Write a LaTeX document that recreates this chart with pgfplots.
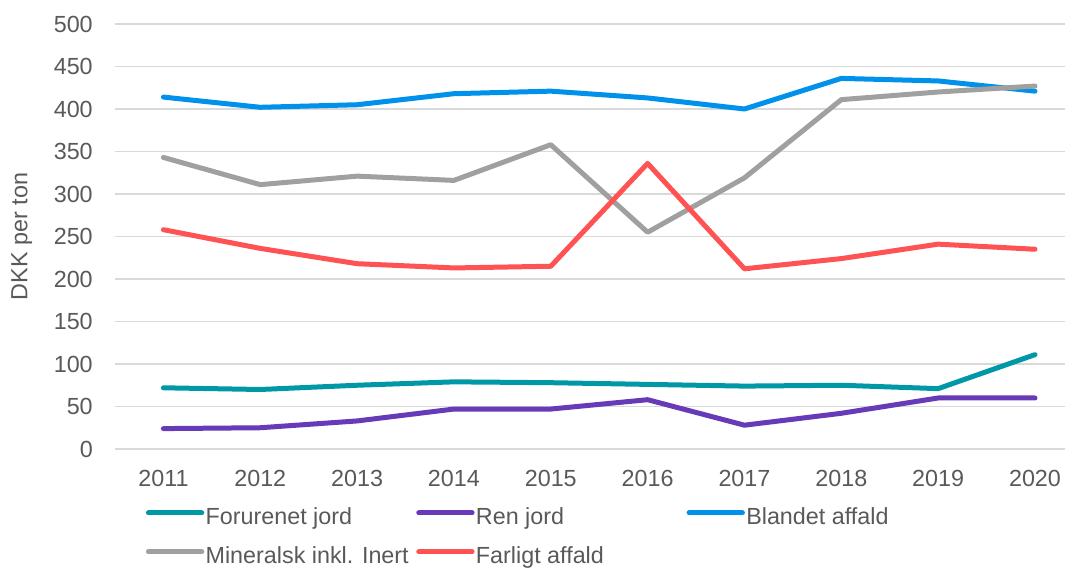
\documentclass[border=0pt]{standalone}
\usepackage{fontspec}
\setmainfont{Liberation Sans}
\usepackage{pgfplots}
\pgfplotsset{compat=1.18}
\definecolor{txt}{HTML}{595959}
\definecolor{gridc}{HTML}{D9D9D9}
\definecolor{cteal}{RGB}{0,151,167}
\definecolor{cpurple}{RGB}{103,58,183}
\definecolor{cblue}{RGB}{0,145,234}
\definecolor{cgray}{RGB}{160,160,160}
\definecolor{cred}{RGB}{255,82,82}
\newcommand{\lfont}{\fontsize{17.5}{21}\selectfont}
\begin{document}
\begin{tikzpicture}
\begin{axis}[
  name=ax,
  scale only axis,
  width=712.5pt, height=318.75pt,
  xmin=-0.5, xmax=9.31,
  ymin=0, ymax=500,
  ytick={0,50,...,500},
  xtick={0,...,9},
  xticklabels={2011,2012,2013,2014,2015,2016,2017,2018,2019,2020},
  axis line style={draw=none},
  tick style={draw=none},
  ymajorgrids,
  grid style={color=gridc, line width=1.1pt},
  /pgf/number format/assume math mode=true,
  ticklabel style={font=\lfont, text=txt},
  yticklabel style={inner sep=0pt, anchor=east, xshift=-16.5pt},
  xticklabel style={inner sep=0pt, anchor=north, yshift=-15.75pt},
  ylabel={DKK per ton},
  ylabel style={font=\lfont, text=txt, at={(axis description cs:-0.098,0.5)}, anchor=center},
  every axis plot/.append style={line width=3.75pt, line join=round, line cap=round},
  legend columns=3,
  legend cell align=left,
  legend image code/.code={\draw[#1, line cap=round] (0pt,0.33em) -- (40pt,0.33em);},
  legend style={draw=none, fill=none, font=\lfont, text=txt,
    at={(0,0)}, anchor=north west, xshift=20pt, yshift=-41pt,
    nodes={inner sep=1pt}, row sep=13pt},
]
\addplot[cteal] coordinates {(0,72) (1,70) (2,75) (3,79) (4,78) (5,76) (6,74) (7,75) (8,71) (9,111)};
\addlegendentry{\makebox[157pt][l]{Forurenet jord}}
\addplot[cpurple] coordinates {(0,24) (1,25) (2,33) (3,47) (4,47) (5,58) (6,28) (7,42) (8,60) (9,60)};
\addlegendentry{\makebox[157pt][l]{Ren jord}}
\addplot[cblue] coordinates {(0,414) (1,402) (2,405) (3,418) (4,421) (5,413) (6,400) (7,436) (8,433) (9,421)};
\addlegendentry{\makebox[157pt][l]{Blandet affald}}
\addplot[cgray] coordinates {(0,343) (1,311) (2,321) (3,316) (4,358) (5,255) (6,319) (7,411) (8,420) (9,427)};
\addlegendentry{\makebox[157pt][l]{Mineralsk inkl. Inert}}
\addplot[cred] coordinates {(0,258) (1,236) (2,218) (3,213) (4,215) (5,336) (6,212) (7,224) (8,241) (9,235)};
\addlegendentry{\makebox[157pt][l]{Farligt affald}}
\end{axis}
\pgfresetboundingbox
\path[use as bounding box] ([xshift=-86.25pt,yshift=-90.75pt]ax.south west) rectangle ([yshift=18pt]ax.north east);
\end{tikzpicture}
\end{document}
